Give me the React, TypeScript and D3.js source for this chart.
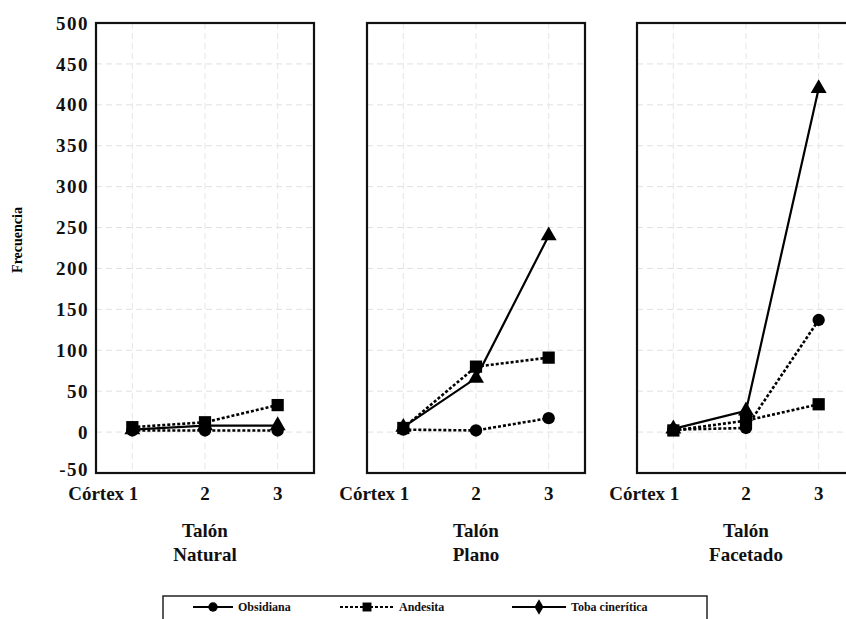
import React, { useEffect, useRef } from 'react';
import * as d3 from 'd3';

const categories = ['Córtex 1', '2', '3'];
const panelTitles = [['Talón', 'Natural'], ['Talón', 'Plano'], ['Talón', 'Facetado']];
const yTicks = [-50, 0, 50, 100, 150, 200, 250, 300, 350, 400, 450, 500];

// one value per category, one row per panel
const obsidiana = [
  [2, 2, 2],
  [3, 2, 17],
  [3, 5, 137],
];
const andesita = [
  [6, 12, 33],
  [5, 80, 91],
  [2, 14, 34],
];
const toba = [
  [3, 8, 8],
  [6, 66, 240],
  [4, 26, 420],
];

const series = [
  { name: 'Obsidiana', values: obsidiana, marker: 'circle', dash: '3,2', legendDash: null },
  { name: 'Andesita', values: andesita, marker: 'square', dash: '3,2', legendDash: '3,2' },
  { name: 'Toba cinerítica', values: toba, marker: 'triangle', dash: null, legendDash: null },
];

const FONT = "'Liberation Serif', 'Times New Roman', Times, serif";

const App: React.FC = () => {
  const svgRef = useRef<SVGSVGElement>(null);

  useEffect(() => {
    if (!svgRef.current) return;
    const svg = d3.select(svgRef.current);
    svg.selectAll('*').remove();

    const top = 23;
    const bottom = 473;
    const panelW = 218;
    const lefts = [96, 367, 637];

    const y = d3.scaleLinear().domain([-50, 500]).range([bottom, top]);

    // y axis labels (left panel only)
    svg.append('g')
      .selectAll('text')
      .data(yTicks)
      .enter()
      .append('text')
      .attr('x', 89)
      .attr('y', d => (d === -50 ? y(d) - 4 : y(d)))
      .attr('dy', '0.35em')
      .attr('text-anchor', 'end')
      .style('font-family', FONT)
      .style('font-size', '19px')
      .style('font-weight', 'bold')
      .style('letter-spacing', '1.5px')
      .attr('fill', '#111')
      .text(d => String(d));

    svg.append('text')
      .attr('transform', `translate(22,${(top + bottom) / 2 - 8}) rotate(-90)`)
      .attr('text-anchor', 'middle')
      .style('font-family', FONT)
      .style('font-size', '14px')
      .style('font-weight', 'bold')
      .text('Frecuencia');

    lefts.forEach((left, pi) => {
      const x = d3.scalePoint<string>()
        .domain(categories)
        .range([left, left + panelW])
        .padding(0.5);

      const g = svg.append('g');

      // faint grid
      g.selectAll('line.hgrid')
        .data(yTicks.filter(t => t > -50 && t < 500))
        .enter()
        .append('line')
        .attr('x1', left)
        .attr('x2', left + panelW)
        .attr('y1', d => y(d))
        .attr('y2', d => y(d))
        .attr('stroke', '#e0e0e0')
        .attr('stroke-width', 1)
        .attr('stroke-dasharray', '6,4');
      g.selectAll('line.vgrid')
        .data(categories)
        .enter()
        .append('line')
        .attr('x1', d => x(d)!)
        .attr('x2', d => x(d)!)
        .attr('y1', top)
        .attr('y2', bottom)
        .attr('stroke', '#e6e6e6')
        .attr('stroke-width', 1)
        .attr('stroke-dasharray', '6,4');

      // frame
      g.append('rect')
        .attr('x', left)
        .attr('y', top)
        .attr('width', panelW)
        .attr('height', bottom - top)
        .attr('fill', 'none')
        .attr('stroke', '#111')
        .attr('stroke-width', 2.2);

      // x labels
      g.selectAll('text.xt')
        .data(categories)
        .enter()
        .append('text')
        .attr('x', (d, i) => (i === 0 ? x(d)! + 6 : x(d)!))
        .attr('y', 500)
        .attr('text-anchor', (d, i) => (i === 0 ? 'end' : 'middle'))
        .style('font-family', FONT)
        .style('font-size', '19px')
        .style('font-weight', 'bold')
        .attr('fill', '#111')
        .text(d => d);

      panelTitles[pi].forEach((t, li) => {
        g.append('text')
          .attr('x', x(categories[1])!)
          .attr('y', 537 + li * 24)
          .attr('text-anchor', 'middle')
          .style('font-family', FONT)
          .style('font-size', '19px')
          .style('font-weight', 'bold')
          .attr('fill', '#111')
          .text(t);
      });

      // series
      series.forEach(s => {
        const vals = s.values[pi];
        const pts = categories.map((c, i) => [x(c)!, y(vals[i])] as [number, number]);
        g.append('path')
          .attr('d', d3.line()(pts))
          .attr('fill', 'none')
          .attr('stroke', '#000')
          .attr('stroke-width', s.dash ? 2.6 : 2.2)
          .attr('stroke-dasharray', s.dash ?? null);

        const sym = s.marker === 'circle' ? d3.symbolCircle : s.marker === 'square' ? d3.symbolSquare : d3.symbolTriangle;
        const size = s.marker === 'circle' ? 120 : s.marker === 'square' ? 150 : 110;
        g.selectAll(null)
          .data(pts)
          .enter()
          .append('path')
          .attr('transform', d => `translate(${d[0]},${d[1]})`)
          .attr('d', d3.symbol().type(sym).size(size)())
          .attr('fill', '#000');
      });
    });

    // legend
    const lg = svg.append('g');
    lg.append('rect')
      .attr('x', 163)
      .attr('y', 596)
      .attr('width', 544)
      .attr('height', 30)
      .attr('fill', 'none')
      .attr('stroke', '#222')
      .attr('stroke-width', 1.5);

    const legendX = [193, 340, 512];
    const legendLen = [40, 54, 54];
    series.forEach((s, i) => {
      const x0 = legendX[i];
      const cy = 607;
      lg.append('line')
        .attr('x1', x0)
        .attr('x2', x0 + legendLen[i])
        .attr('y1', cy)
        .attr('y2', cy)
        .attr('stroke', '#000')
        .attr('stroke-width', 2)
        .attr('stroke-dasharray', s.legendDash ?? null);
      const sym = s.marker === 'circle' ? d3.symbolCircle : s.marker === 'square' ? d3.symbolSquare : d3.symbolDiamond;
      lg.append('path')
        .attr('transform', `translate(${x0 + legendLen[i] / 2},${cy})`)
        .attr('d', d3.symbol().type(sym).size(s.marker === 'square' ? 80 : 70)())
        .attr('fill', '#000');
      lg.append('text')
        .attr('x', x0 + legendLen[i] + 5)
        .attr('y', cy)
        .attr('dy', '0.35em')
        .style('font-family', FONT)
        .style('font-size', '12px')
        .style('font-weight', 'bold')
        .attr('fill', '#111')
        .text(s.name);
    });
  }, []);

  return (
    <svg
      ref={svgRef}
      width={846}
      height={619}
      style={{ position: 'absolute', left: 0, top: 0, background: '#fff' }}
    />
  );
};

export default App;
